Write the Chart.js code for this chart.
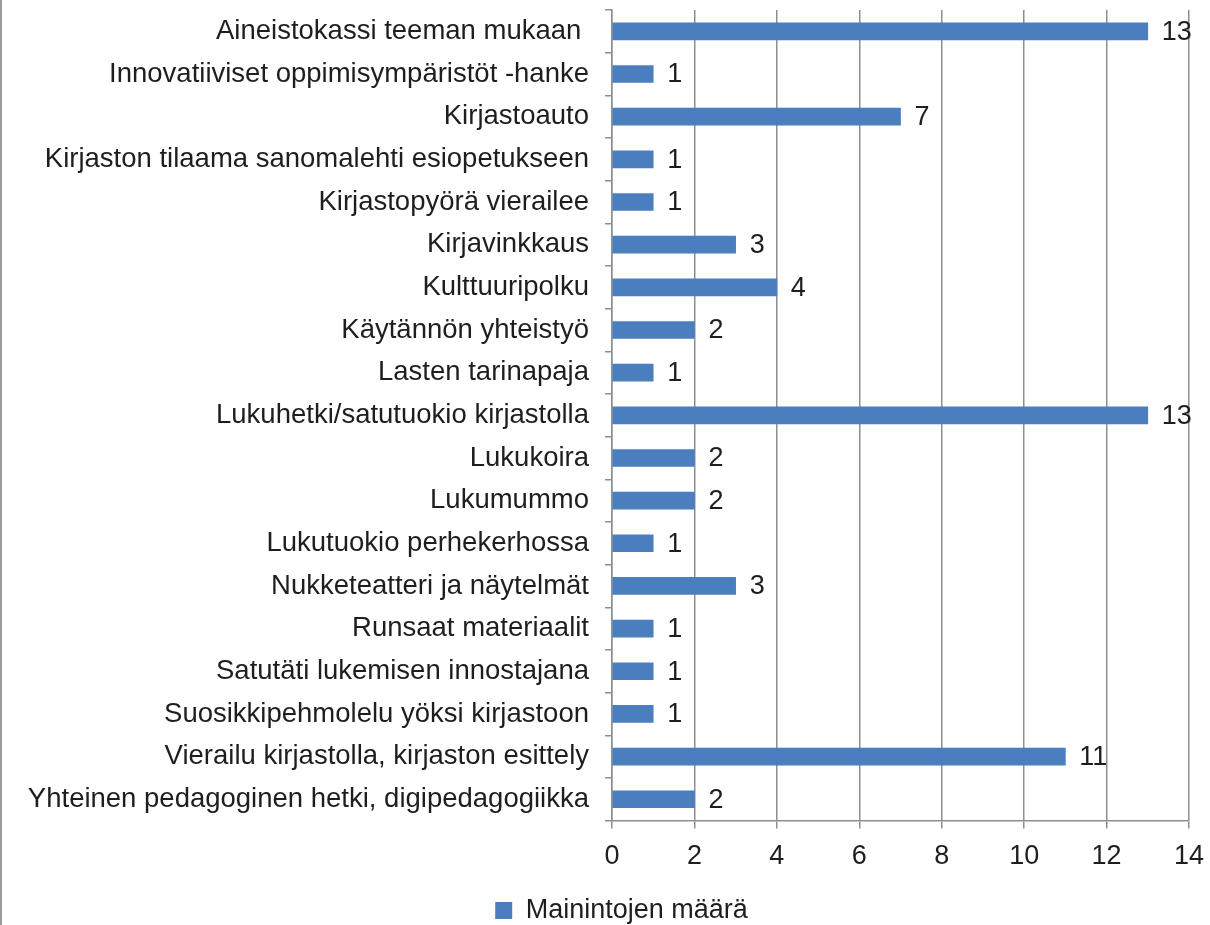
<!DOCTYPE html>
<html>
<head>
<meta charset="utf-8">
<script src="https://cdn.jsdelivr.net/npm/chart.js@4"></script>
<style>
    body { margin: 0; background: #fff; }
    #wrap { position: relative; width: 1210px; height: 925px; }
    #frame { position: absolute; left: 0; top: 0; width: 2px; height: 925px; background: #9c9c9c; }
</style>
</head>
<body>
<div id="wrap">
    <canvas id="chart"></canvas>
    <div id="frame"></div>
</div>
<script>
// Categories as they appear in the chart, top to bottom
const categories = [
    'Aineistokassi teeman mukaan ',
    'Innovatiiviset oppimisympäristöt -hanke',
    'Kirjastoauto',
    'Kirjaston tilaama sanomalehti esiopetukseen',
    'Kirjastopyörä vierailee',
    'Kirjavinkkaus',
    'Kulttuuripolku',
    'Käytännön yhteistyö',
    'Lasten tarinapaja',
    'Lukuhetki/satutuokio kirjastolla',
    'Lukukoira',
    'Lukumummo',
    'Lukutuokio perhekerhossa',
    'Nukketeatteri ja näytelmät',
    'Runsaat materiaalit',
    'Satutäti lukemisen innostajana',
    'Suosikkipehmolelu yöksi kirjastoon',
    'Vierailu kirjastolla, kirjaston esittely',
    'Yhteinen pedagoginen hetki, digipedagogiikka'
];

// Number of mentions per category
const mentions = [13, 1, 7, 1, 1, 3, 4, 2, 1, 13, 2, 2, 1, 3, 1, 1, 1, 11, 2];

const seriesName = 'Mainintojen määrä';
const xMin = 0;
const xMax = 14;
const xStep = 2;

const fontFamily = '"Liberation Sans", Arial, sans-serif';
const fontSize = 27.5;
const textColor = '#1e1e1e';
const lineColor = '#8e8e8e';
const barColor = '#4a7ebf';

// Draws the value next to the end of each bar
const valueLabels = {
    id: 'valueLabels',
    afterDatasetsDraw(chart) {
        const ctx = chart.ctx;
        const meta = chart.getDatasetMeta(0);
        ctx.save();
        ctx.font = '27px ' + fontFamily;
        ctx.fillStyle = textColor;
        ctx.textAlign = 'left';
        ctx.textBaseline = 'middle';
        meta.data.forEach((bar, i) => {
            ctx.fillText(String(mentions[i]), bar.x + 14, bar.y + 1);
        });
        ctx.restore();
    }
};

// The legend sits a little right of the canvas centre in the original
const legendShift = {
    id: 'legendShift',
    afterLayout(chart) {
        if (chart.legend) {
            chart.legend.left += 27;
            chart.legend.right += 27;
        }
    }
};

const chart = new Chart(document.getElementById('chart').getContext('2d'), {
    type: 'bar',
    data: {
        labels: categories,
        datasets: [{
            label: seriesName,
            data: mentions,
            backgroundColor: barColor,
            borderWidth: 0,
            barThickness: 17
        }]
    },
    options: {
        indexAxis: 'y',
        responsive: true,
        maintainAspectRatio: false,
        animation: false,
        layout: {
            padding: { top: 10, right: 21, left: 0, bottom: -9 }
        },
        scales: {
            x: {
                min: xMin,
                max: xMax,
                afterFit(scale) {
                    scale.paddingLeft = 0;
                    scale.paddingRight = 0;
                },
                ticks: {
                    stepSize: xStep,
                    color: textColor,
                    padding: 12,
                    font: { family: fontFamily, size: 27 }
                },
                grid: {
                    color: lineColor,
                    lineWidth: 1.5,
                    tickLength: 8
                },
                border: { color: lineColor, width: 1.5 }
            },
            y: {
                offset: true,
                afterFit(scale) {
                    scale.width = 612;
                    scale.paddingTop = 0;
                    scale.paddingBottom = 0;
                },
                ticks: {
                    color: textColor,
                    padding: 16,
                    autoSkip: false,
                    font: { family: fontFamily, size: fontSize }
                },
                grid: {
                    offset: true,
                    drawOnChartArea: false,
                    color: lineColor,
                    lineWidth: 1.5,
                    tickLength: 7
                },
                border: { color: lineColor, width: 1.5 }
            }
        },
        plugins: {
            legend: {
                position: 'bottom',
                labels: {
                    color: textColor,
                    boxWidth: 17,
                    boxHeight: 17,
                    padding: 12,
                    font: { family: fontFamily, size: 27 }
                }
            },
            tooltip: { enabled: false }
        }
    },
    plugins: [valueLabels, legendShift]
});
</script>
</body>
</html>
